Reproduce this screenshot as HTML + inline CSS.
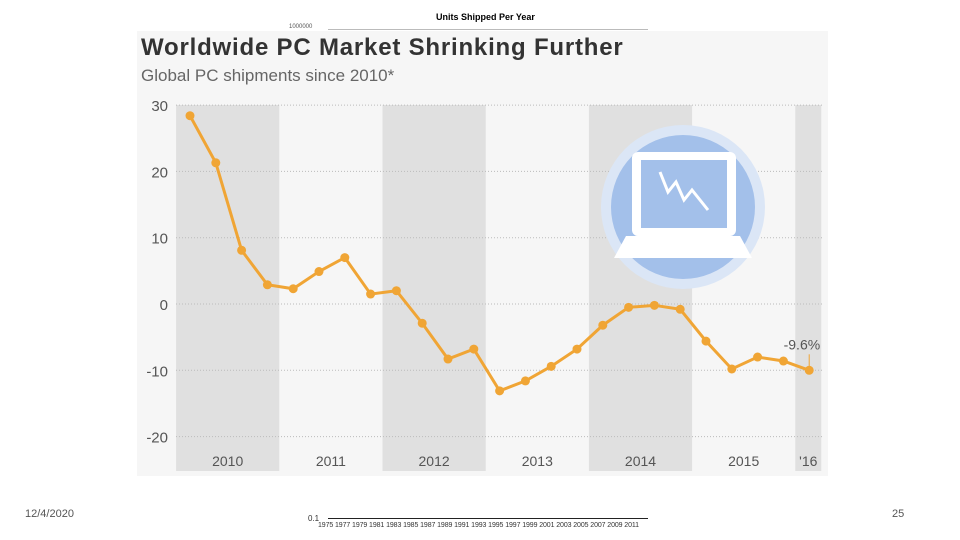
<!DOCTYPE html>
<html><head><meta charset="utf-8"><style>
body{margin:0;width:960px;height:540px;background:#fff;position:relative;overflow:hidden;font-family:"Liberation Sans",sans-serif}
.t{position:absolute;white-space:nowrap}
</style></head><body>
<div class="t" style="left:436px;top:12px;font-size:9px;font-weight:bold">Units Shipped Per Year</div>
<div class="t" style="left:289px;top:24px;font-size:6px;color:#555">1000000</div>
<div style="position:absolute;left:328px;top:29px;width:320px;height:1px;background:#bbb"></div>
<svg style="position:absolute;left:0;top:0" width="960" height="540" id="chart"></svg>
<div class="t" style="left:141px;top:34px;font-size:24px;font-weight:bold;color:#333;letter-spacing:0.8px">Worldwide PC Market Shrinking Further</div>
<div class="t" style="left:141px;top:66px;font-size:17px;color:#666">Global PC shipments since 2010*</div>
<div class="t" style="left:308px;top:514px;font-size:8px;color:#333">0.1</div>
<div style="position:absolute;left:328px;top:518px;width:320px;height:1px;background:#222"></div>
<div class="t" style="left:318px;top:522px;font-size:7px;color:#333;letter-spacing:-0.1px">1975 1977 1979 1981 1983 1985 1987 1989 1991 1993 1995 1997 1999 2001 2003 2005 2007 2009 2011</div>
<div class="t" style="left:25px;top:508px;font-size:11px;color:#555">12/4/2020</div>
<div class="t" style="left:892px;top:508px;font-size:11px;color:#555">25</div>
<script>
const values=[28.4,21.3,8.1,2.9,2.3,4.9,7.0,1.5,2.0,-2.9,-8.3,-6.8,-13.1,-11.6,-9.4,-6.8,-3.2,-0.5,-0.2,-0.8,-5.6,-9.8,-8.0,-8.6,-10.0];
const yTicks=[30,20,10,0,-10,-20];
const yearLabels=["2010","2011","2012","2013","2014","2015","'16"];
const NS="http://www.w3.org/2000/svg";
const svg=document.getElementById('chart');
function y(v){return 304-v*6.63;}
function x(i){return 190+i*25.8;}
function mk(t,a){const e=document.createElementNS(NS,t);for(const k in a)e.setAttribute(k,a[k]);svg.appendChild(e);return e;}
let bg=mk('rect',{x:137,y:31,width:691,height:445,fill:'#f6f6f6'});


yearLabels.forEach((lab,k)=>{
  const x0=x(k*4)-13.9, w=(k==6)?26:103.2;
  if(k%2==0){const r=mk('rect',{x:x0,y:105,width:w,height:366,fill:'#e0e0e0'});
    
    }
  const t=mk('text',{x:x0+w/2,y:466,'text-anchor':'middle','font-size':14,fill:'#555'});t.textContent=lab;
  
  
});
yTicks.forEach(v=>{
  const l=mk('line',{x1:176,x2:822,y1:y(v),y2:y(v),stroke:'#bbb','stroke-dasharray':'1,2'});
  
  
  const t=mk('text',{x:168,y:y(v)+6,'text-anchor':'end','font-size':15,fill:'#555'});t.textContent=v;
  
  
});
let c1=mk('circle',{cx:683,cy:207,r:82,fill:'#dbe6f6'});


let c2=mk('circle',{cx:683,cy:207,r:72,fill:'#a3c0ea'});


let sc=mk('rect',{x:632,y:152,width:104,height:84,rx:6,fill:'#fff'});


let sc2=mk('rect',{x:641,y:160,width:86,height:68,fill:'#a3c0ea'});


let base=mk('path',{d:'M626 236 L740 236 L752 258 L614 258 Z',fill:'#fff'});


let zz=mk('polyline',{points:'660,172 668,192 676,182 684,200 692,190 708,210',fill:'none',stroke:'#fff','stroke-width':3});


const line=mk('polyline',{points:values.map((v,i)=>x(i)+','+y(v)).join(' '),fill:'none',stroke:'#f0a535','stroke-width':3});


values.forEach((v,i)=>{const c=mk('circle',{cx:x(i),cy:y(v),r:4.5,fill:'#f0a535'});
  
  });
const last=values.length-1;
const lv=values[last];
let lt=mk('text',{x:x(last)+11,y:y(lv)-21,'text-anchor':'end','font-size':14,fill:'#555'});lt.textContent='-9.6%';


let ll=mk('line',{x1:x(last),x2:x(last),y1:y(lv)-16,y2:y(lv)-4,stroke:'#f0a535','stroke-width':1});


</script>
</body></html>
